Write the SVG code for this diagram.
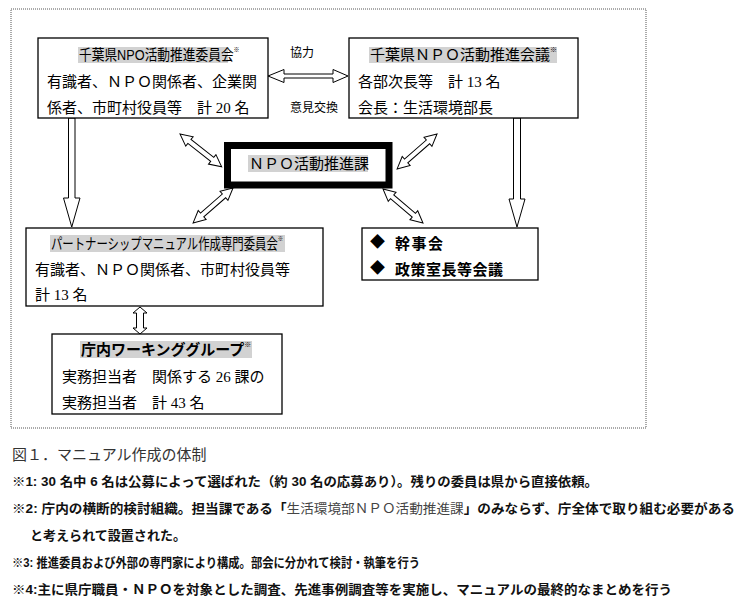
<svg xmlns="http://www.w3.org/2000/svg" width="742" height="612" viewBox="0 0 742 612">
<style>
.box{fill:#fff;stroke:#000;stroke-width:1.3}
.hl{fill:#d2d2d2}
.arr{fill:#fff;stroke:#000;stroke-width:1}
.body{font-family:"Liberation Serif","Noto Sans CJK JP",serif;font-size:15px;fill:#000}
.ttl{font-family:"Liberation Sans","Noto Sans CJK JP",sans-serif;font-size:15px;fill:#000}
.sup{font-size:7px}
.lbl{font-family:"Noto Sans CJK JP",sans-serif;font-size:12px;fill:#000}
.note{font-family:"Liberation Sans","Noto Sans CJK JP",sans-serif;font-size:13px;font-weight:bold;fill:#111}
.thin{font-weight:normal;fill:#444}
.cap{font-family:"Liberation Serif","Noto Sans CJK JP",serif;font-size:15px;fill:#333}
</style>
<rect x="11" y="9" width="635" height="419" fill="none" stroke="#555" stroke-width="1" stroke-dasharray="1,1"/>
<g id="connectors">
<polygon class="arr" points="268,76 284,69.5 284,74 333,74 333,69.5 348,76 333,82.5 333,78 284,78 284,82.5"/>
<polygon class="arr" points="68.5,118 75,118 75,198 80,198 71.75,227 63.5,198 68.5,198"/>
<polygon class="arr" points="513.5,118 520.5,118 520.5,199 525,199 517,227 509,199 513.5,199"/>
<polygon class="arr" transform="translate(180,134) rotate(38.2)" points="0,0 12,-6 12,-2.5 41,-2.5 41,-6 53,0 41,6 41,2.5 12,2.5 12,6"/>
<polygon class="arr" transform="translate(233,188) rotate(138.8)" points="0,0 12,-6 12,-2.5 41,-2.5 41,-6 53,0 41,6 41,2.5 12,2.5 12,6"/>
<polygon class="arr" transform="translate(437,134) rotate(138.8)" points="0,0 12,-6 12,-2.5 41,-2.5 41,-6 53,0 41,6 41,2.5 12,2.5 12,6"/>
<polygon class="arr" transform="translate(383,189) rotate(40.4)" points="0,0 12,-6 12,-2.5 40.5,-2.5 40.5,-6 52.5,0 40.5,6 40.5,2.5 12,2.5 12,6"/>
<polygon class="arr" points="140,307 147,313 143.5,313 143.5,328 147,328 140,334 133,328 136.5,328 136.5,313 133,313"/>
<text class="lbl" x="290" y="56.5">協力</text>
<text class="lbl" x="290" y="111.5">意見交換</text>
</g>
<g id="npo-committee">
<rect class="box" x="38" y="38" width="230" height="80"/>
<rect class="hl" x="78" y="47" width="150" height="16"/>
<text class="ttl" transform="translate(79,60) scale(0.848,1)">千葉県NPO活動推進委員会<tspan class="sup" dy="-8">※</tspan></text>
<text class="body" x="47" y="87">有識者、ＮＰＯ関係者、企業関</text>
<text class="body" x="47" y="113">係者、市町村役員等　計 20 名</text>
</g>
<g id="npo-council">
<rect class="box" x="349" y="38" width="229" height="80"/>
<rect class="hl" x="369" y="47" width="188" height="16"/>
<text class="ttl" x="370" y="60">千葉県ＮＰＯ活動推進会議<tspan class="sup" dy="-8">※</tspan></text>
<text class="body" x="358" y="87">各部次長等　計 13 名</text>
<text class="body" x="358" y="113">会長：生活環境部長</text>
</g>
<g id="npo-section">
<rect x="227.5" y="145.5" width="161.5" height="39.5" fill="#fff" stroke="#000" stroke-width="7"/>
<rect class="hl" x="248" y="155" width="120" height="17"/>
<text class="ttl" x="249" y="169">ＮＰＯ活動推進課</text>
</g>
<g id="manual-committee">
<rect class="box" x="26" y="228" width="297" height="78"/>
<rect class="hl" x="50" y="235" width="235" height="17"/>
<text class="ttl" transform="translate(51,249) scale(0.759,1)">パートナーシップマニュアル作成専門委員会<tspan class="sup" dy="-8">※</tspan></text>
<text class="body" x="35" y="275">有識者、ＮＰＯ関係者、市町村役員等</text>
<text class="body" x="35" y="300">計 13 名</text>
</g>
<g id="kanji-kai">
<rect class="box" x="362" y="228" width="176" height="52"/>
<text class="ttl" x="370" y="246.5" font-size="8">◆</text>
<text class="ttl" x="395" y="248.5" font-weight="bold" style="letter-spacing:1.5px">幹事会</text>
<text class="ttl" x="370" y="272.5" font-size="8">◆</text>
<text class="ttl" x="395" y="274.5" font-weight="bold" style="letter-spacing:0.5px">政策室長等会議</text>
</g>
<g id="working-group">
<rect class="box" x="52" y="334" width="230" height="80"/>
<rect class="hl" x="80" y="341" width="172" height="17"/>
<text class="ttl" x="81" y="355" font-weight="bold">庁内ワーキンググループ<tspan class="sup" dy="-8">※</tspan></text>
<text class="body" x="62" y="382">実務担当者　関係する 26 課の</text>
<text class="body" x="62" y="408">実務担当者　計 43 名</text>
</g>
<g id="notes">
<text class="cap" x="12" y="460">図１．マニュアル作成の体制</text>
<text class="note" x="12" y="486" textLength="586" lengthAdjust="spacingAndGlyphs">※1:  30 名中 6 名は公募によって選ばれた（約 30 名の応募あり）。残りの委員は県から直接依頼。</text>
<text class="note" x="12" y="513" textLength="723" lengthAdjust="spacingAndGlyphs">※2:  庁内の横断的検討組織。担当課である「<tspan class="thin">生活環境部ＮＰＯ活動推進課</tspan>」のみならず、庁全体で取り組む必要がある</text>
<text class="note" x="30" y="540" textLength="156" lengthAdjust="spacingAndGlyphs">と考えられて設置された。</text>
<text class="note" x="12" y="567" textLength="408" lengthAdjust="spacingAndGlyphs">※3:  推進委員および外部の専門家により構成。部会に分かれて検討・執筆を行う</text>
<text class="note" x="12" y="594" textLength="660" lengthAdjust="spacingAndGlyphs">※4:主に県庁職員・ＮＰＯを対象とした調査、先進事例調査等を実施し、マニュアルの最終的なまとめを行う</text>
</g>
</svg>
